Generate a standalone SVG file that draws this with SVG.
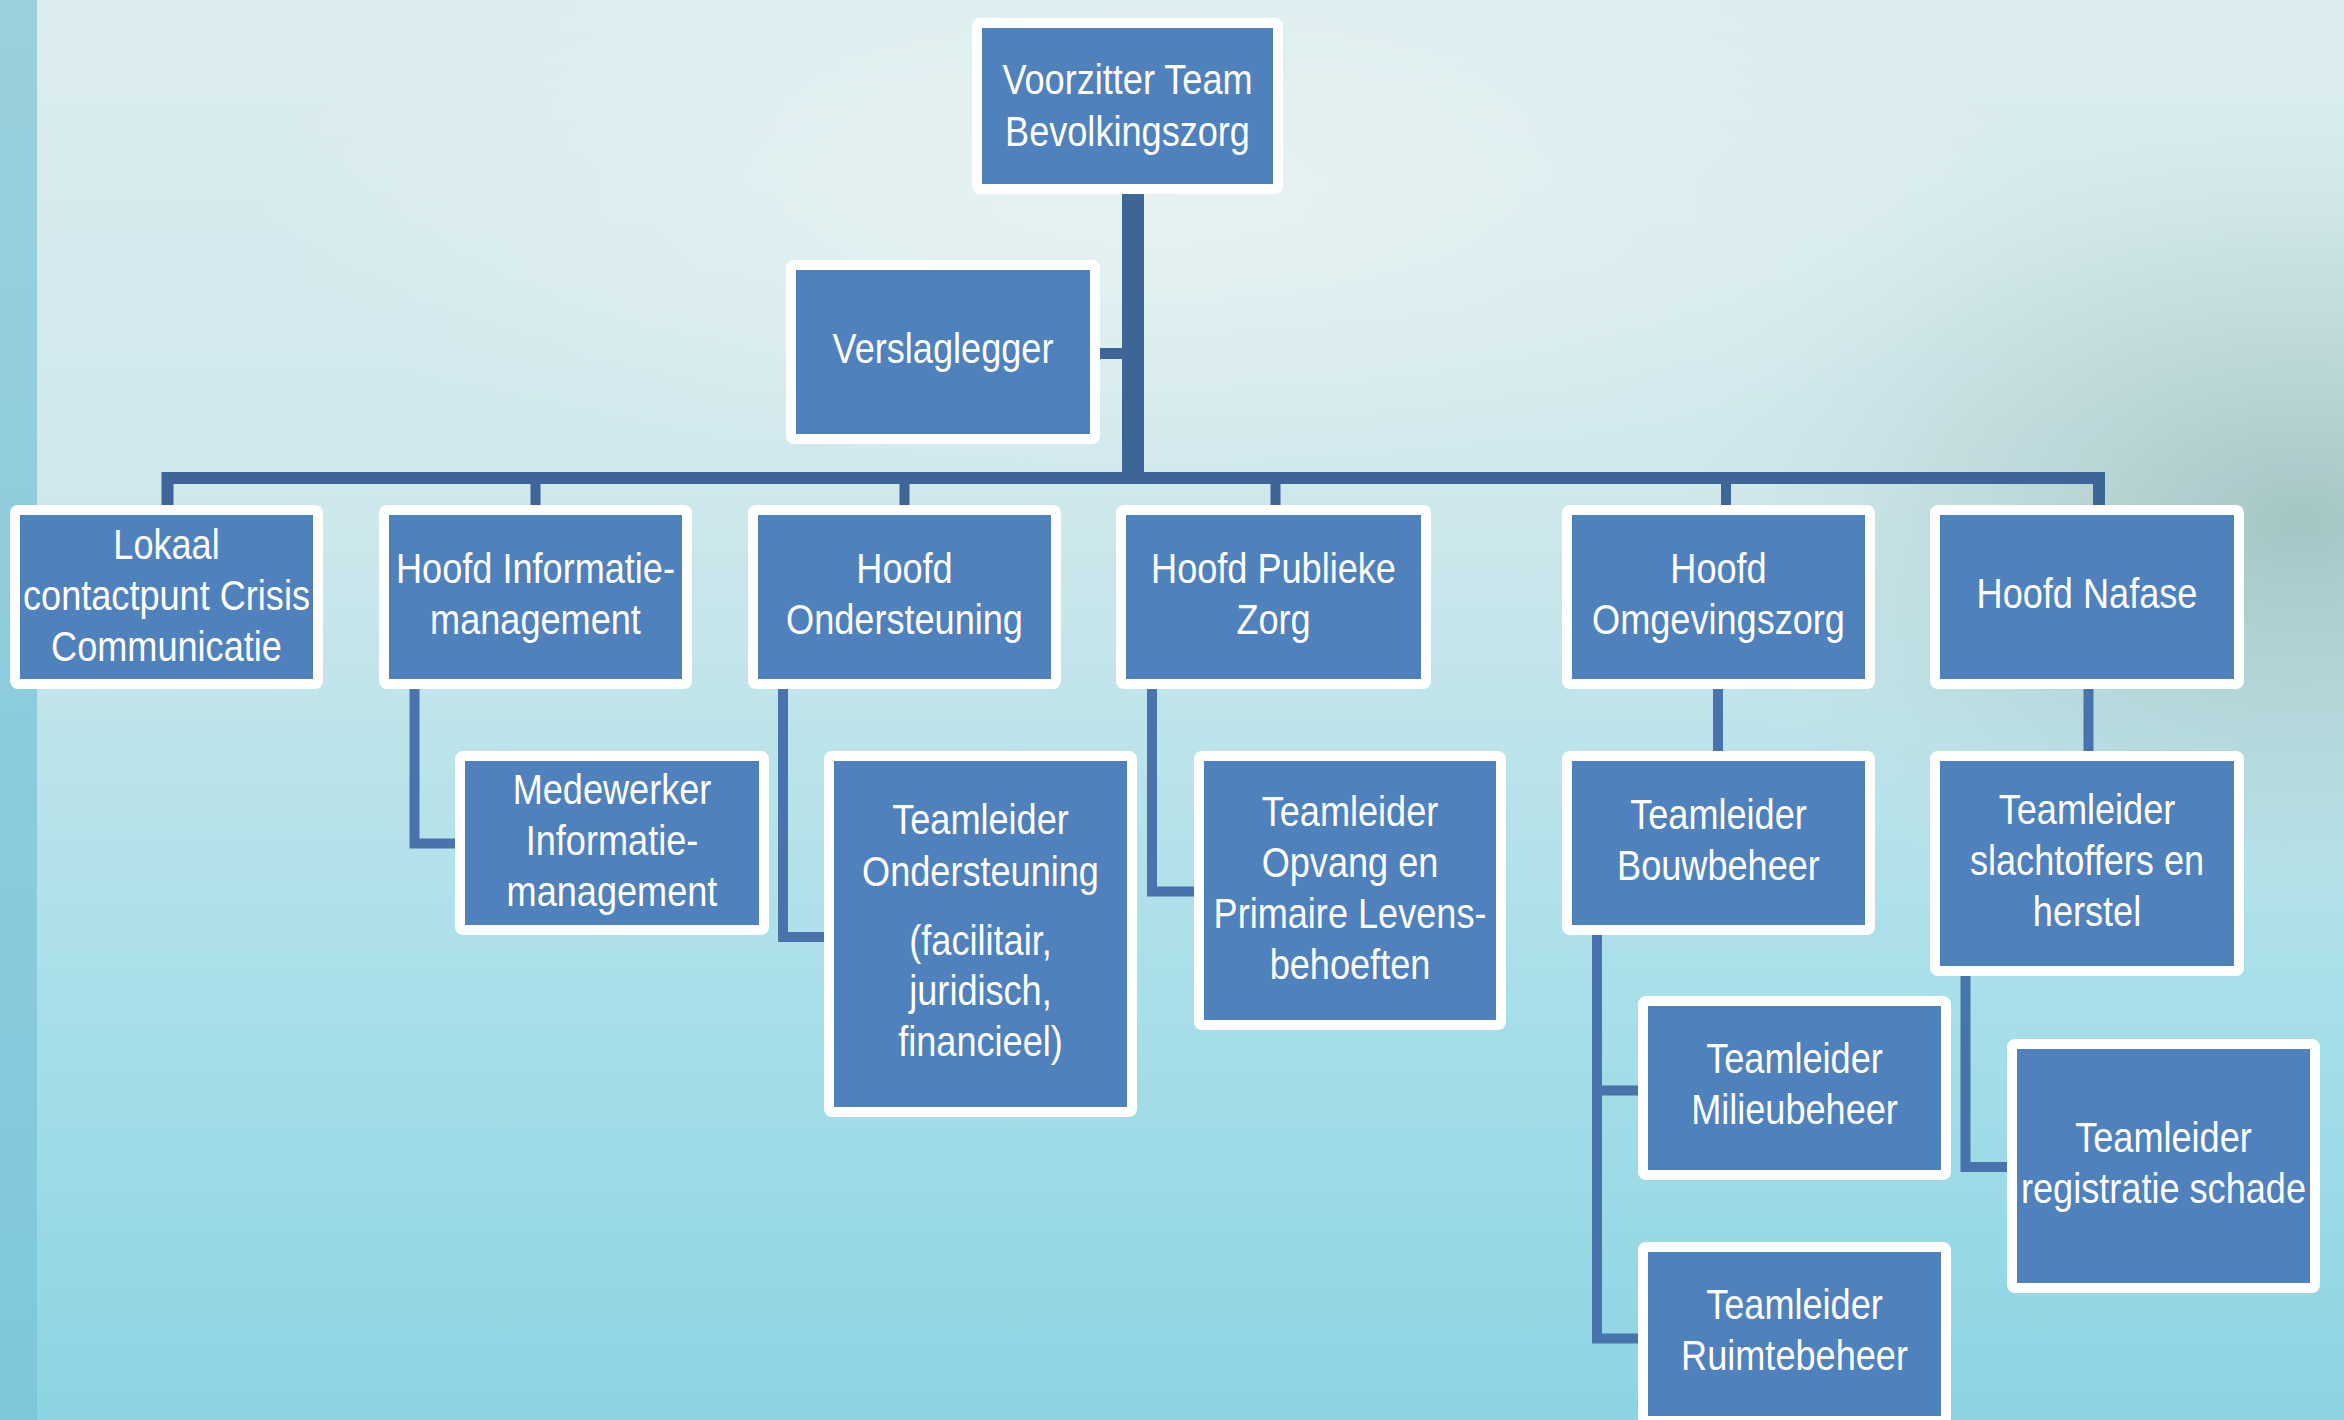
<svg xmlns="http://www.w3.org/2000/svg" width="2344" height="1420" viewBox="0 0 2344 1420">
<defs>
<linearGradient id="bg" x1="0" y1="0" x2="0" y2="1">
<stop offset="0" stop-color="#dcedf0"/>
<stop offset="0.35" stop-color="#cfe8ec"/>
<stop offset="0.7" stop-color="#a9dfe9"/>
<stop offset="1" stop-color="#8cd4e3"/>
</linearGradient>
<linearGradient id="strip" x1="0" y1="0" x2="0" y2="1">
<stop offset="0" stop-color="#9bd0dc"/>
<stop offset="1" stop-color="#7ec8dc"/>
</linearGradient>
<radialGradient id="mist" cx="0.5" cy="0.5" r="0.5">
<stop offset="0" stop-color="#93b6b4" stop-opacity="0.7"/>
<stop offset="0.6" stop-color="#a9c7c5" stop-opacity="0.3"/>
<stop offset="1" stop-color="#c9dfdf" stop-opacity="0"/>
</radialGradient>
<radialGradient id="glow" cx="0.5" cy="0.5" r="0.5">
<stop offset="0" stop-color="#eef5f4" stop-opacity="0.7"/>
<stop offset="1" stop-color="#eef5f4" stop-opacity="0"/>
</radialGradient>
</defs>
<style>
.box{fill:#4f81bd;stroke:#ffffff;stroke-width:10;stroke-linejoin:round}
.t{font-family:"Liberation Sans","Arial",sans-serif;font-size:42px;fill:#ffffff;text-anchor:middle}
.main{fill:none;stroke:#3d6597;stroke-linejoin:miter}
.sub{fill:none;stroke:#4873ad;stroke-width:10;stroke-linejoin:miter}
</style>
<rect width="2344" height="1420" fill="url(#bg)"/>
<ellipse cx="1150" cy="200" rx="900" ry="300" fill="url(#glow)"/>
<ellipse cx="2300" cy="520" rx="620" ry="420" fill="url(#mist)"/>
<rect x="0" y="0" width="37" height="1420" fill="url(#strip)"/>

<g id="connectors">
<path class="main" stroke-width="22" d="M1133,194 V484"/>
<path class="main" stroke-width="11" d="M1100,353.5 H1133"/>
<path class="main" stroke-width="12" d="M167.5,505 V478 H2099 V505"/>
<path class="main" stroke-width="10" d="M535.5,478 V505 M904.5,478 V505 M1275.5,478 V505 M1726,478 V505"/>
<path class="sub" d="M414.5,689 V843.5 H455"/>
<path class="sub" d="M783,689 V937 H824"/>
<path class="sub" d="M1152,689 V891.5 H1194"/>
<path class="sub" d="M1718,689 V751"/>
<path class="sub" d="M2088.5,689 V751"/>
<path class="sub" d="M1597,935 V1338.5 H1638 M1597,1090.5 H1638"/>
<path class="sub" d="M1965.5,976 V1167 H2007"/>
</g>

<g id="n-voorzitter"><rect class="box" x="977" y="23" width="301" height="166" rx="3"/>
<g transform="translate(1127.5,0) scale(0.86,1)"><text class="t" x="0" y="94">Voorzitter Team</text><text class="t" x="0" y="146">Bevolkingszorg</text></g></g>
<g id="n-verslaglegger"><rect class="box" x="791" y="265" width="304" height="174" rx="3"/>
<g transform="translate(943,0) scale(0.86,1)"><text class="t" x="0" y="363">Verslaglegger</text></g></g>
<g id="n-lokaal"><rect class="box" x="15" y="510" width="303" height="174" rx="3"/>
<g transform="translate(166.5,0) scale(0.86,1)"><text class="t" x="0" y="559">Lokaal</text><text class="t" x="0" y="610">contactpunt Crisis</text><text class="t" x="0" y="661">Communicatie</text></g></g>
<g id="n-hinfo"><rect class="box" x="384" y="510" width="303" height="174" rx="3"/>
<g transform="translate(535.5,0) scale(0.86,1)"><text class="t" x="0" y="583">Hoofd Informatie-</text><text class="t" x="0" y="634">management</text></g></g>
<g id="n-hond"><rect class="box" x="753" y="510" width="303" height="174" rx="3"/>
<g transform="translate(904.5,0) scale(0.86,1)"><text class="t" x="0" y="583">Hoofd</text><text class="t" x="0" y="634">Ondersteuning</text></g></g>
<g id="n-hpub"><rect class="box" x="1121" y="510" width="305" height="174" rx="3"/>
<g transform="translate(1273.5,0) scale(0.86,1)"><text class="t" x="0" y="583">Hoofd Publieke</text><text class="t" x="0" y="634">Zorg</text></g></g>
<g id="n-homg"><rect class="box" x="1567" y="510" width="303" height="174" rx="3"/>
<g transform="translate(1718.5,0) scale(0.86,1)"><text class="t" x="0" y="583">Hoofd</text><text class="t" x="0" y="634">Omgevingszorg</text></g></g>
<g id="n-hnaf"><rect class="box" x="1935" y="510" width="304" height="174" rx="3"/>
<g transform="translate(2087,0) scale(0.86,1)"><text class="t" x="0" y="608">Hoofd Nafase</text></g></g>

<g id="n-medewerker"><rect class="box" x="460" y="756" width="304" height="174" rx="3"/>
<g transform="translate(612,0) scale(0.86,1)"><text class="t" x="0" y="804">Medewerker</text><text class="t" x="0" y="855">Informatie-</text><text class="t" x="0" y="906">management</text></g></g>
<g id="n-tond"><rect class="box" x="829" y="756" width="303" height="356" rx="3"/>
<g transform="translate(980.5,0) scale(0.86,1)"><text class="t" x="0" y="834">Teamleider</text><text class="t" x="0" y="886">Ondersteuning</text><text class="t" x="0" y="955">(facilitair,</text><text class="t" x="0" y="1005">juridisch,</text><text class="t" x="0" y="1056">financieel)</text></g></g>
<g id="n-topv"><rect class="box" x="1199" y="756" width="302" height="269" rx="3"/>
<g transform="translate(1350,0) scale(0.86,1)"><text class="t" x="0" y="826">Teamleider</text><text class="t" x="0" y="877">Opvang en</text><text class="t" x="0" y="928">Primaire Levens-</text><text class="t" x="0" y="979">behoeften</text></g></g>
<g id="n-tbouw"><rect class="box" x="1567" y="756" width="303" height="174" rx="3"/>
<g transform="translate(1718.5,0) scale(0.86,1)"><text class="t" x="0" y="829">Teamleider</text><text class="t" x="0" y="880">Bouwbeheer</text></g></g>
<g id="n-tslacht"><rect class="box" x="1935" y="756" width="304" height="215" rx="3"/>
<g transform="translate(2087,0) scale(0.86,1)"><text class="t" x="0" y="824">Teamleider</text><text class="t" x="0" y="875">slachtoffers en</text><text class="t" x="0" y="926">herstel</text></g></g>
<g id="n-tmilieu"><rect class="box" x="1643" y="1001" width="303" height="174" rx="3"/>
<g transform="translate(1794.5,0) scale(0.86,1)"><text class="t" x="0" y="1073">Teamleider</text><text class="t" x="0" y="1124">Milieubeheer</text></g></g>
<g id="n-truimte"><rect class="box" x="1643" y="1247" width="303" height="174" rx="3"/>
<g transform="translate(1794.5,0) scale(0.86,1)"><text class="t" x="0" y="1319">Teamleider</text><text class="t" x="0" y="1370">Ruimtebeheer</text></g></g>
<g id="n-treg"><rect class="box" x="2012" y="1044" width="303" height="244" rx="3"/>
<g transform="translate(2163.5,0) scale(0.86,1)"><text class="t" x="0" y="1152">Teamleider</text><text class="t" x="0" y="1203">registratie schade</text></g></g>
</svg>
